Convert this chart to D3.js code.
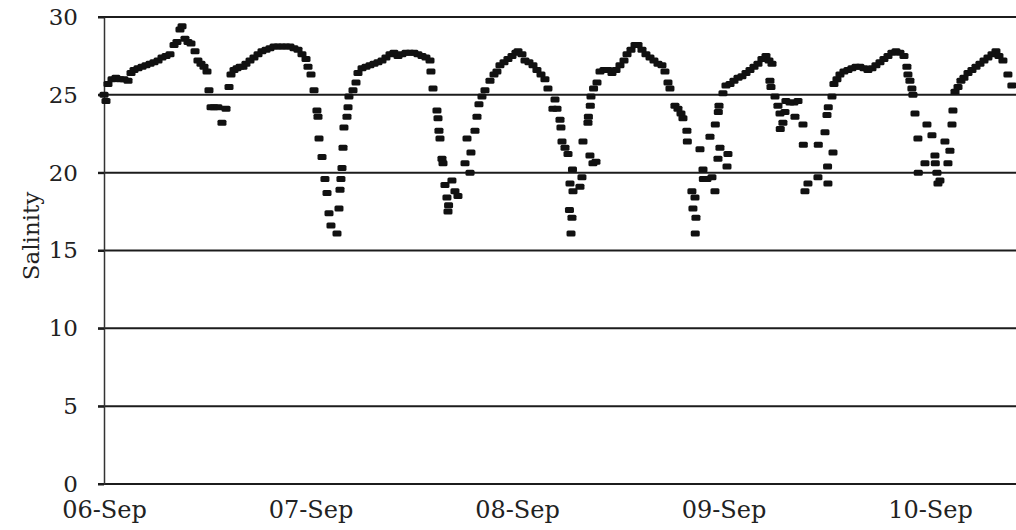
<!DOCTYPE html>
<html>
<head>
<meta charset="utf-8">
<script src="https://cdn.jsdelivr.net/npm/d3@7"></script>
<style>
  html, body { margin: 0; padding: 0; background: #ffffff; }
  svg { display: block; }
</style>
</head>
<body>
<svg id="chart" width="1016" height="530"></svg>
<script>
// Hours elapsed since 06-Sep 00:00 for each logged reading
const hours = [
  0.00, 0.23, 0.46, 0.93, 1.39, 1.86, 2.32, 2.79, 3.14, 3.49, 3.95, 4.42, 4.88, 5.35, 5.81, 6.28, 6.74, 7.21, 7.67,
  8.14, 8.48, 8.83, 9.07, 9.41, 9.76, 10.11, 10.58, 10.92, 11.27, 11.62, 11.97, 12.20, 12.44, 12.78, 13.25, 13.71,
  14.18, 14.53, 14.76, 15.11, 15.46, 15.81, 16.15, 16.50, 16.97, 17.43, 17.90, 18.36, 18.83, 19.29, 19.76, 20.22,
  20.69, 21.15, 21.62, 22.08, 22.55, 23.01, 23.48, 23.71, 24.06, 24.41, 24.75, 24.87, 24.99, 25.34, 25.68, 25.92,
  26.15, 26.38, 27.08, 27.31, 27.43, 27.54, 27.66, 27.78, 27.89, 28.24, 28.36, 28.47, 28.94, 29.29, 29.52, 29.99,
  30.45, 30.91, 31.38, 31.84, 32.31, 32.77, 33.24, 33.70, 34.17, 34.63, 35.10, 35.56, 36.03, 36.49, 36.96, 37.42,
  37.89, 38.00, 38.24, 38.70, 38.82, 38.93, 39.05, 39.28, 39.40, 39.63, 39.86, 39.98, 40.05, 40.44, 40.79, 41.14,
  41.96, 42.19, 42.54, 42.65, 43.12, 43.35, 43.58, 43.93, 44.28, 44.86, 45.33, 45.67, 46.02, 46.49, 46.95, 47.42,
  47.88, 48.12, 48.58, 48.93, 49.39, 49.86, 50.32, 50.79, 51.25, 51.60, 52.18, 52.42, 52.65, 53.00, 53.11, 53.23,
  53.58, 53.93, 54.16, 54.28, 54.39, 54.10, 54.45, 54.51, 55.32, 55.55, 55.67, 56.25, 56.30, 56.48, 56.52, 56.60,
  56.83, 57.18, 56.90, 57.30, 57.65, 58.11, 58.58, 59.04, 59.51, 59.97, 60.44, 60.79, 61.25, 61.72, 62.07, 62.53,
  62.99, 63.46, 63.92, 64.39, 64.85, 65.20, 65.55, 65.78, 66.36, 66.71, 67.06, 67.29, 67.75, 67.80, 68.33, 68.45,
  68.69, 68.72, 68.80, 69.27, 69.62, 69.66, 70.08, 70.43, 70.66, 71.01, 71.05, 71.36, 71.40, 71.48, 71.59, 71.94,
  72.29, 72.41, 72.52, 72.76, 73.22, 73.69, 74.15, 74.62, 75.08, 75.55, 76.01, 76.47, 76.94, 77.29, 77.64, 77.40,
  77.52, 77.99, 78.33, 78.57, 78.60, 78.91, 79.15, 79.26, 79.73, 80.19, 80.31, 80.66, 81.24, 81.28, 81.47, 81.82,
  82.98, 83.02, 83.80, 84.03, 84.10, 84.14, 84.18, 84.61, 84.73, 84.84, 85.19, 85.54, 86.00, 86.47, 86.93, 87.40,
  87.86, 88.33, 88.79, 89.26, 89.72, 90.19, 90.65, 91.12, 91.58, 92.05, 92.51, 92.98, 93.32, 93.44, 93.67, 93.90,
  94.02, 94.26, 94.60, 94.64, 95.42, 95.65, 96.23, 96.58, 96.62, 96.81, 96.93, 97.16, 97.74, 98.09, 98.32, 98.56,
  98.67, 98.91, 99.26, 99.60, 99.95, 100.42, 100.88, 101.35, 101.81, 102.28, 102.74, 103.21, 103.67, 104.02,
  104.48, 105.06, 105.52
];

// Salinity reading at each of those times
const salinity = [
  25.0, 24.6, 25.7, 26.0, 26.1, 26.0, 26.0, 25.9, 26.4, 26.6, 26.7, 26.8, 26.9, 27.0, 27.1, 27.2, 27.4, 27.5, 27.6,
  28.2, 28.4, 29.2, 29.4, 28.6, 28.4, 28.3, 27.8, 27.2, 27.0, 26.8, 26.5, 25.3, 24.2, 24.2, 24.2, 23.2,
  24.1, 25.5, 26.3, 26.6, 26.7, 26.8, 26.8, 27.0, 27.2, 27.4, 27.6, 27.8, 27.9, 28.0, 28.1, 28.1,
  28.1, 28.1, 28.1, 28.0, 27.9, 27.6, 27.3, 26.8, 26.3, 25.3, 24.0, 23.6, 22.2, 21.0, 19.6, 18.7,
  17.4, 16.6, 16.1, 17.7, 18.9, 19.6, 20.3, 21.6, 22.9, 23.6, 24.2, 24.9, 25.3, 25.8, 26.4, 26.7,
  26.8, 26.9, 27.0, 27.1, 27.2, 27.4, 27.6, 27.7, 27.5, 27.6, 27.7, 27.7, 27.7, 27.6, 27.5, 27.4,
  27.2, 26.5, 25.4, 24.0, 23.5, 22.7, 22.2, 20.9, 20.6, 19.2, 18.4, 17.5, 17.9, 19.5, 18.8, 18.5,
  20.6, 22.2, 20.0, 21.3, 22.7, 23.6, 24.4, 24.9, 25.3, 25.9, 26.3, 26.5, 26.9, 27.1, 27.3, 27.5,
  27.7, 27.8, 27.6, 27.2, 27.1, 26.9, 26.6, 26.3, 26.0, 25.4, 24.1, 24.7, 24.1, 23.4, 22.9, 22.0,
  21.6, 21.2, 19.3, 16.1, 17.1, 17.6, 20.2, 18.8, 19.1, 19.7, 22.0, 23.2, 23.6, 21.1, 24.3, 24.9,
  20.6, 20.7, 25.4, 25.8, 26.5, 26.6, 26.6, 26.4, 26.6, 26.9, 27.2, 27.6, 27.9, 28.2, 28.2, 27.9,
  27.6, 27.4, 27.2, 27.0, 26.9, 26.5, 25.8, 25.4, 24.3, 24.1, 23.8, 23.5, 22.7, 22.0, 18.8, 17.7,
  18.4, 16.1, 17.1, 21.5, 20.2, 19.6, 19.6, 22.3, 19.7, 18.8, 23.1, 20.9, 23.9, 24.3, 21.6, 25.1,
  25.6, 20.4, 21.2, 25.7, 25.9, 26.1, 26.2, 26.4, 26.6, 26.8, 27.0, 27.3, 27.5, 27.2, 27.0, 25.9,
  25.5, 24.9, 24.3, 23.8, 22.8, 23.2, 23.9, 24.6, 24.5, 24.5, 23.6, 24.6, 23.1, 21.8, 18.8, 19.3,
  19.7, 21.8, 22.6, 23.7, 20.4, 19.3, 24.2, 24.9, 21.3, 25.7, 26.0, 26.3, 26.5, 26.6, 26.7, 26.8,
  26.8, 26.7, 26.6, 26.7, 26.9, 27.1, 27.3, 27.5, 27.7, 27.8, 27.7, 27.5, 26.8, 26.3, 25.9, 25.4,
  25.0, 23.8, 22.2, 20.0, 20.6, 23.1, 22.4, 21.1, 20.6, 20.0, 19.3, 19.5, 22.0, 20.6, 21.4, 23.1,
  24.0, 25.2, 25.5, 25.9, 26.1, 26.4, 26.6, 26.8, 27.0, 27.2, 27.4, 27.6, 27.8, 27.5,
  27.2, 26.3, 25.6
];

// Axis ticks
const yTicks = [0, 5, 10, 15, 20, 25, 30];
const xTickLabels = ["06-Sep", "07-Sep", "08-Sep", "09-Sep", "10-Sep"];

const startTime = new Date(2000, 8, 6, 0, 0);
const endTime = new Date(2000, 8, 10, 10, 0);
const atHours = h => new Date(startTime.getTime() + h * 3600 * 1000);
const dayTicks = xTickLabels.map((_, i) => atHours(i * 24));

const readings = hours.map((h, i) => ({ t: atHours(h), s: salinity[i] }));

const svg = d3.select("#chart");
const fontFamily = "'DejaVu Serif', 'Liberation Serif', serif";

const x = d3.scaleTime().domain([startTime, endTime]).range([104, 1016]);
const y = d3.scaleLinear().domain([0, 30]).range([484, 17]);

// Horizontal gridlines across the plot
svg.append("g")
  .selectAll("line")
  .data(yTicks)
  .join("line")
  .attr("x1", 98)
  .attr("x2", 1016)
  .attr("y1", d => y(d))
  .attr("y2", d => y(d))
  .attr("stroke", "#1c1c1c")
  .attr("stroke-width", 2);

// Vertical salinity axis
const yAxis = svg.append("g")
  .attr("transform", "translate(104,0)")
  .call(d3.axisLeft(y).tickValues(yTicks).tickSize(6).tickPadding(20).tickSizeOuter(0));
yAxis.select(".domain").attr("stroke", "#333").attr("stroke-width", 1.5);
yAxis.selectAll(".tick line").attr("stroke", "#1c1c1c").attr("stroke-width", 2);
yAxis.selectAll("text")
  .attr("fill", "#222")
  .style("font-family", fontFamily)
  .style("font-size", "23px");

// Date axis along the bottom
const xAxis = svg.append("g")
  .attr("transform", "translate(0,484)")
  .call(d3.axisBottom(x).tickValues(dayTicks).tickSize(0)
    .tickFormat((d, i) => xTickLabels[i]));
xAxis.select(".domain").remove();
xAxis.selectAll("text")
  .attr("y", 34)
  .attr("dy", 0)
  .attr("fill", "#222")
  .style("font-family", fontFamily)
  .style("font-size", "24px");

// Axis title
svg.append("text")
  .attr("transform", "translate(39,236) rotate(-90)")
  .attr("text-anchor", "middle")
  .attr("fill", "#222")
  .style("font-family", fontFamily)
  .style("font-size", "23px")
  .text("Salinity");

// Readings drawn as short dash markers
svg.append("g")
  .selectAll("rect")
  .data(readings)
  .join("rect")
  .attr("x", d => x(d.t) - 4.5)
  .attr("y", d => y(d.s) - 3)
  .attr("width", 9)
  .attr("height", 6)
  .attr("rx", 1.5)
  .attr("fill", "#111");
</script>
</body>
</html>
